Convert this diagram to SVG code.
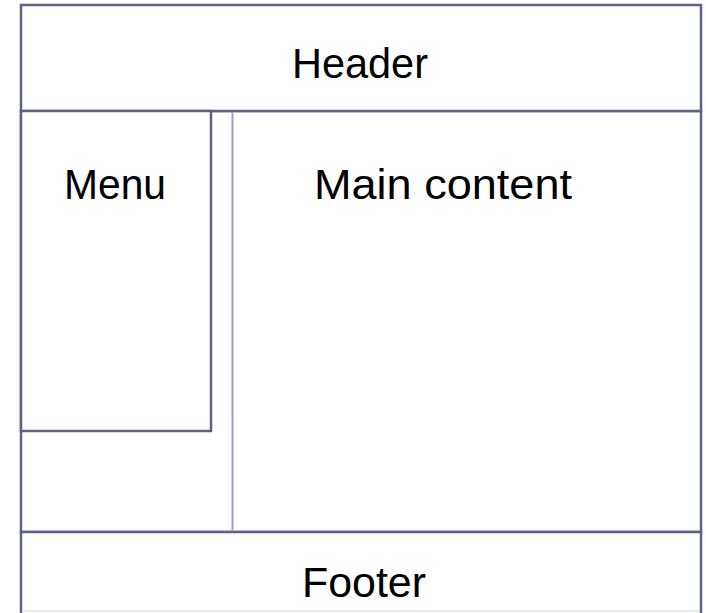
<svg xmlns="http://www.w3.org/2000/svg" width="706" height="613" viewBox="0 0 706 613">
<style>
.box{fill:#ffffff;stroke:#5c6386;stroke-width:2.5}
.sep{stroke:#97a1c6;stroke-width:2;fill:none}
.lbl{font-family:"Liberation Sans",Arial,sans-serif;font-size:42px;fill:#000}
</style>
<rect x="0" y="0" width="706" height="613" fill="#ffffff"/>
<g id="body">
<rect class="box" x="21" y="111" width="680" height="421"/>
</g>
<g id="header">
<rect class="box" x="21" y="5" width="680" height="106"/>
<text class="lbl" x="292" y="78" textLength="136" lengthAdjust="spacingAndGlyphs">Header</text>
</g>
<g id="menu">
<rect class="box" x="21" y="111" width="190" height="320"/>
<text class="lbl" x="64" y="199" textLength="102" lengthAdjust="spacingAndGlyphs">Menu</text>
</g>
<g id="main">
<text class="lbl" x="314" y="199" textLength="258" lengthAdjust="spacingAndGlyphs">Main content</text>
</g>
<g id="footer">
<rect class="box" x="21" y="532" width="680" height="100"/>
<line x1="22" y1="611" x2="700" y2="611" stroke="#e2e3ea" stroke-width="1.5"/>
<text class="lbl" x="302" y="597" textLength="124" lengthAdjust="spacingAndGlyphs">Footer</text>
</g>
<g id="connectors">
<line class="sep" x1="232.5" y1="112" x2="232.5" y2="531"/>
</g>
</svg>
